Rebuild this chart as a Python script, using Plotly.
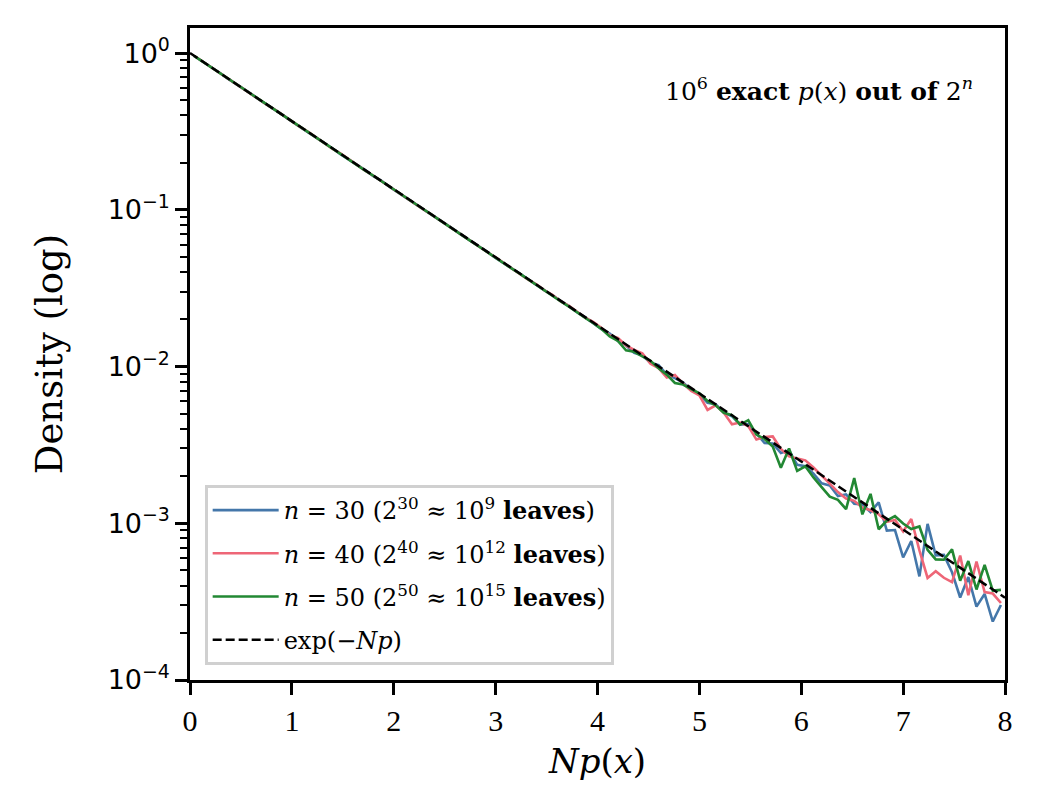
import plotly.graph_objects as go

# ---- data ----
# bin centres of the histogram of N*p(x): 100 bins of width 0.08 on [0, 8]
bin_width = 0.08
n_bins = 100
x_centers = [round(bin_width * (i + 0.5), 2) for i in range(n_bins)]

density_n30 = [
    0.958, 0.889, 0.815, 0.757, 0.695, 0.645, 0.592, 0.549, 0.504, 0.468,
    0.430, 0.399, 0.366, 0.340, 0.312, 0.289, 0.265, 0.246, 0.226, 0.210,
    0.193, 0.179, 0.164, 0.153, 0.140, 0.1295, 0.1198, 0.1102, 0.1020, 0.0940,
    0.0871, 0.0801, 0.0742, 0.0682, 0.0632, 0.0580, 0.0538, 0.0494, 0.0459, 0.0422,
    0.0391, 0.0360, 0.0333, 0.0306, 0.0285, 0.0261, 0.0243, 0.0222, 0.0206, 0.0190,
    0.01734, 0.01624, 0.01457, 0.01363, 0.01223, 0.01180, 0.01057, 0.01020, 0.00888, 0.00844,
    0.00791, 0.00709, 0.00664, 0.00587, 0.00574, 0.00507, 0.00482, 0.00426, 0.00430, 0.00374,
    0.00325, 0.00323, 0.00281, 0.00292, 0.00236, 0.00231, 0.00207, 0.00180, 0.00174, 0.00149,
    0.00153, 0.00133, 0.00132, 0.00118, 0.00136, 0.000897, 0.000905, 0.000605, 0.000771, 0.000458,
    0.000991, 0.000624, 0.000629, 0.000487, 0.000336, 0.000454, 0.000294, 0.000354, 0.000236, 0.000301,
]

density_n40 = [
    0.961, 0.886, 0.818, 0.754, 0.698, 0.642, 0.595, 0.547, 0.506, 0.466,
    0.432, 0.397, 0.367, 0.338, 0.314, 0.288, 0.267, 0.245, 0.228, 0.209,
    0.194, 0.178, 0.165, 0.152, 0.1405, 0.1297, 0.1195, 0.1105, 0.1018, 0.0942,
    0.0868, 0.0803, 0.0740, 0.0684, 0.0630, 0.0583, 0.0536, 0.0497, 0.0458, 0.0423,
    0.0393, 0.0358, 0.0335, 0.0306, 0.0286, 0.0260, 0.0244, 0.0224, 0.0205, 0.0192,
    0.01760, 0.01577, 0.01523, 0.01363, 0.01278, 0.01215, 0.01042, 0.00976, 0.00850, 0.00883,
    0.00779, 0.00699, 0.00654, 0.00529, 0.00565, 0.00507, 0.00428, 0.00439, 0.00417, 0.00342,
    0.00355, 0.00358, 0.00298, 0.00267, 0.00258, 0.00252, 0.00227, 0.00203, 0.00179, 0.00158,
    0.00144, 0.00139, 0.00126, 0.00121, 0.00114, 0.00102, 0.00105, 0.000886, 0.001065, 0.000671,
    0.000448, 0.000494, 0.000449, 0.000421, 0.000622, 0.000348, 0.000570, 0.000364, 0.000356, 0.000310,
]

density_n50 = [
    0.959, 0.887, 0.817, 0.755, 0.696, 0.643, 0.594, 0.548, 0.505, 0.467,
    0.431, 0.398, 0.367, 0.339, 0.313, 0.289, 0.266, 0.246, 0.227, 0.210,
    0.193, 0.178, 0.165, 0.152, 0.1402, 0.1298, 0.1197, 0.1104, 0.1019, 0.0941,
    0.0866, 0.0800, 0.0740, 0.0683, 0.0629, 0.0581, 0.0535, 0.0495, 0.0457, 0.0421,
    0.0390, 0.0359, 0.0332, 0.0305, 0.0282, 0.0260, 0.0241, 0.0221, 0.0204, 0.0189,
    0.01734, 0.01554, 0.01457, 0.01268, 0.01241, 0.01162, 0.01089, 0.00976, 0.00888, 0.00785,
    0.00768, 0.00719, 0.00674, 0.00604, 0.00565, 0.00507, 0.00489, 0.00426, 0.00455, 0.00368,
    0.00345, 0.00309, 0.00226, 0.00300, 0.00216, 0.00231, 0.00196, 0.00170, 0.00148, 0.00141,
    0.00123, 0.00194, 0.00114, 0.00154, 0.000916, 0.00104, 0.00111, 0.000996, 0.000919, 0.000954,
    0.000676, 0.000588, 0.000585, 0.000682, 0.000430, 0.000574, 0.000378, 0.000542, 0.000372, 0.000376,
]

# exp(-Np) is a straight line on a log axis: its two end points
ref_x = [0.0, 8.0]
ref_y = [1.0, 0.000335]

series_names = [
    "<i>n</i> = 30 (2<sup>30</sup> ≈ 10<sup>9</sup> <b>leaves</b>)",
    "<i>n</i> = 40 (2<sup>40</sup> ≈ 10<sup>12</sup> <b>leaves</b>)",
    "<i>n</i> = 50 (2<sup>50</sup> ≈ 10<sup>15</sup> <b>leaves</b>)",
]
ref_name = "exp(−<i>Np</i>)"

x_tick_vals = [0, 1, 2, 3, 4, 5, 6, 7, 8]
x_tick_text = ["0", "1", "2", "3", "4", "5", "6", "7", "8"]
y_tick_vals = [1e-4, 1e-3, 1e-2, 1e-1, 1]
y_tick_text = ["10<sup>−4</sup>", "10<sup>−3</sup>", "10<sup>−2</sup>",
               "10<sup>−1</sup>", "10<sup>0</sup>"]

colors = ["#4477AA", "#EE6677", "#228833"]

SERIF = "DejaVu Serif"
TICKSERIF = "Liberation Serif"
SANS = "DejaVu Sans"

fig = go.Figure()
for i, (ys, name, col) in enumerate(zip([density_n30, density_n40, density_n50], series_names, colors)):
    fig.add_trace(go.Scatter(
        x=x_centers, y=ys, mode="lines", name=name, legendgroup=f"g{i}",
        line=dict(color=col, width=2.6),
    ))
fig.add_trace(go.Scatter(
    x=ref_x, y=ref_y, mode="lines", name=ref_name, legendgroup="g3",
    line=dict(color="black", width=2.5, dash="9px,4px"),
))

fig.update_layout(
    width=1045, height=796,
    margin=dict(l=190, r=40, t=28, b=116),
    paper_bgcolor="white", plot_bgcolor="white",
    showlegend=True,
    legend=dict(
        x=0.018, y=0.023, xanchor="left", yanchor="bottom",
        bgcolor="rgba(255,255,255,0.85)", bordercolor="#d0d0d0", borderwidth=3,
        font=dict(family=SERIF, size=24, color="black"),
        tracegroupgap=9, itemwidth=66,
    ),
    annotations=[dict(
        x=0.963, y=0.905, xref="paper", yref="paper", xanchor="right", yanchor="middle",
        text="10<sup>6</sup> <b>exact</b> <i>p</i>(<i>x</i>) <b>out of</b> 2<sup><i>n</i></sup>",
        showarrow=False, font=dict(family=SERIF, size=25, color="black"),
    )],
)

fig.update_xaxes(
    range=[0, 8], tickvals=x_tick_vals, ticktext=x_tick_text,
    ticks="outside", ticklen=12, tickwidth=2.5, tickcolor="black",
    showline=True, linewidth=2.5, linecolor="black", mirror=True,
    showgrid=False, zeroline=False,
    tickfont=dict(family=TICKSERIF, size=30, color="black"),
    title=dict(text="<i>Np</i>(<i>x</i>)", font=dict(family=SERIF, size=34, color="black"),
               standoff=14),
)
fig.update_yaxes(
    type="log", range=[-4, 0.16], tickvals=y_tick_vals, ticktext=y_tick_text,
    ticks="outside", ticklen=12, tickwidth=2.5, tickcolor="black",
    minor=dict(ticks="outside", ticklen=7, tickwidth=2, tickcolor="black",
               dtick="D1", showgrid=False),
    showline=True, linewidth=2.5, linecolor="black", mirror=True,
    showgrid=False, zeroline=False,
    tickfont=dict(family=SANS, size=27, color="black"),
    title=dict(text="Density (log)", font=dict(family=SERIF, size=37, color="black"),
               standoff=34),
)

fig.write_html("out.html")
